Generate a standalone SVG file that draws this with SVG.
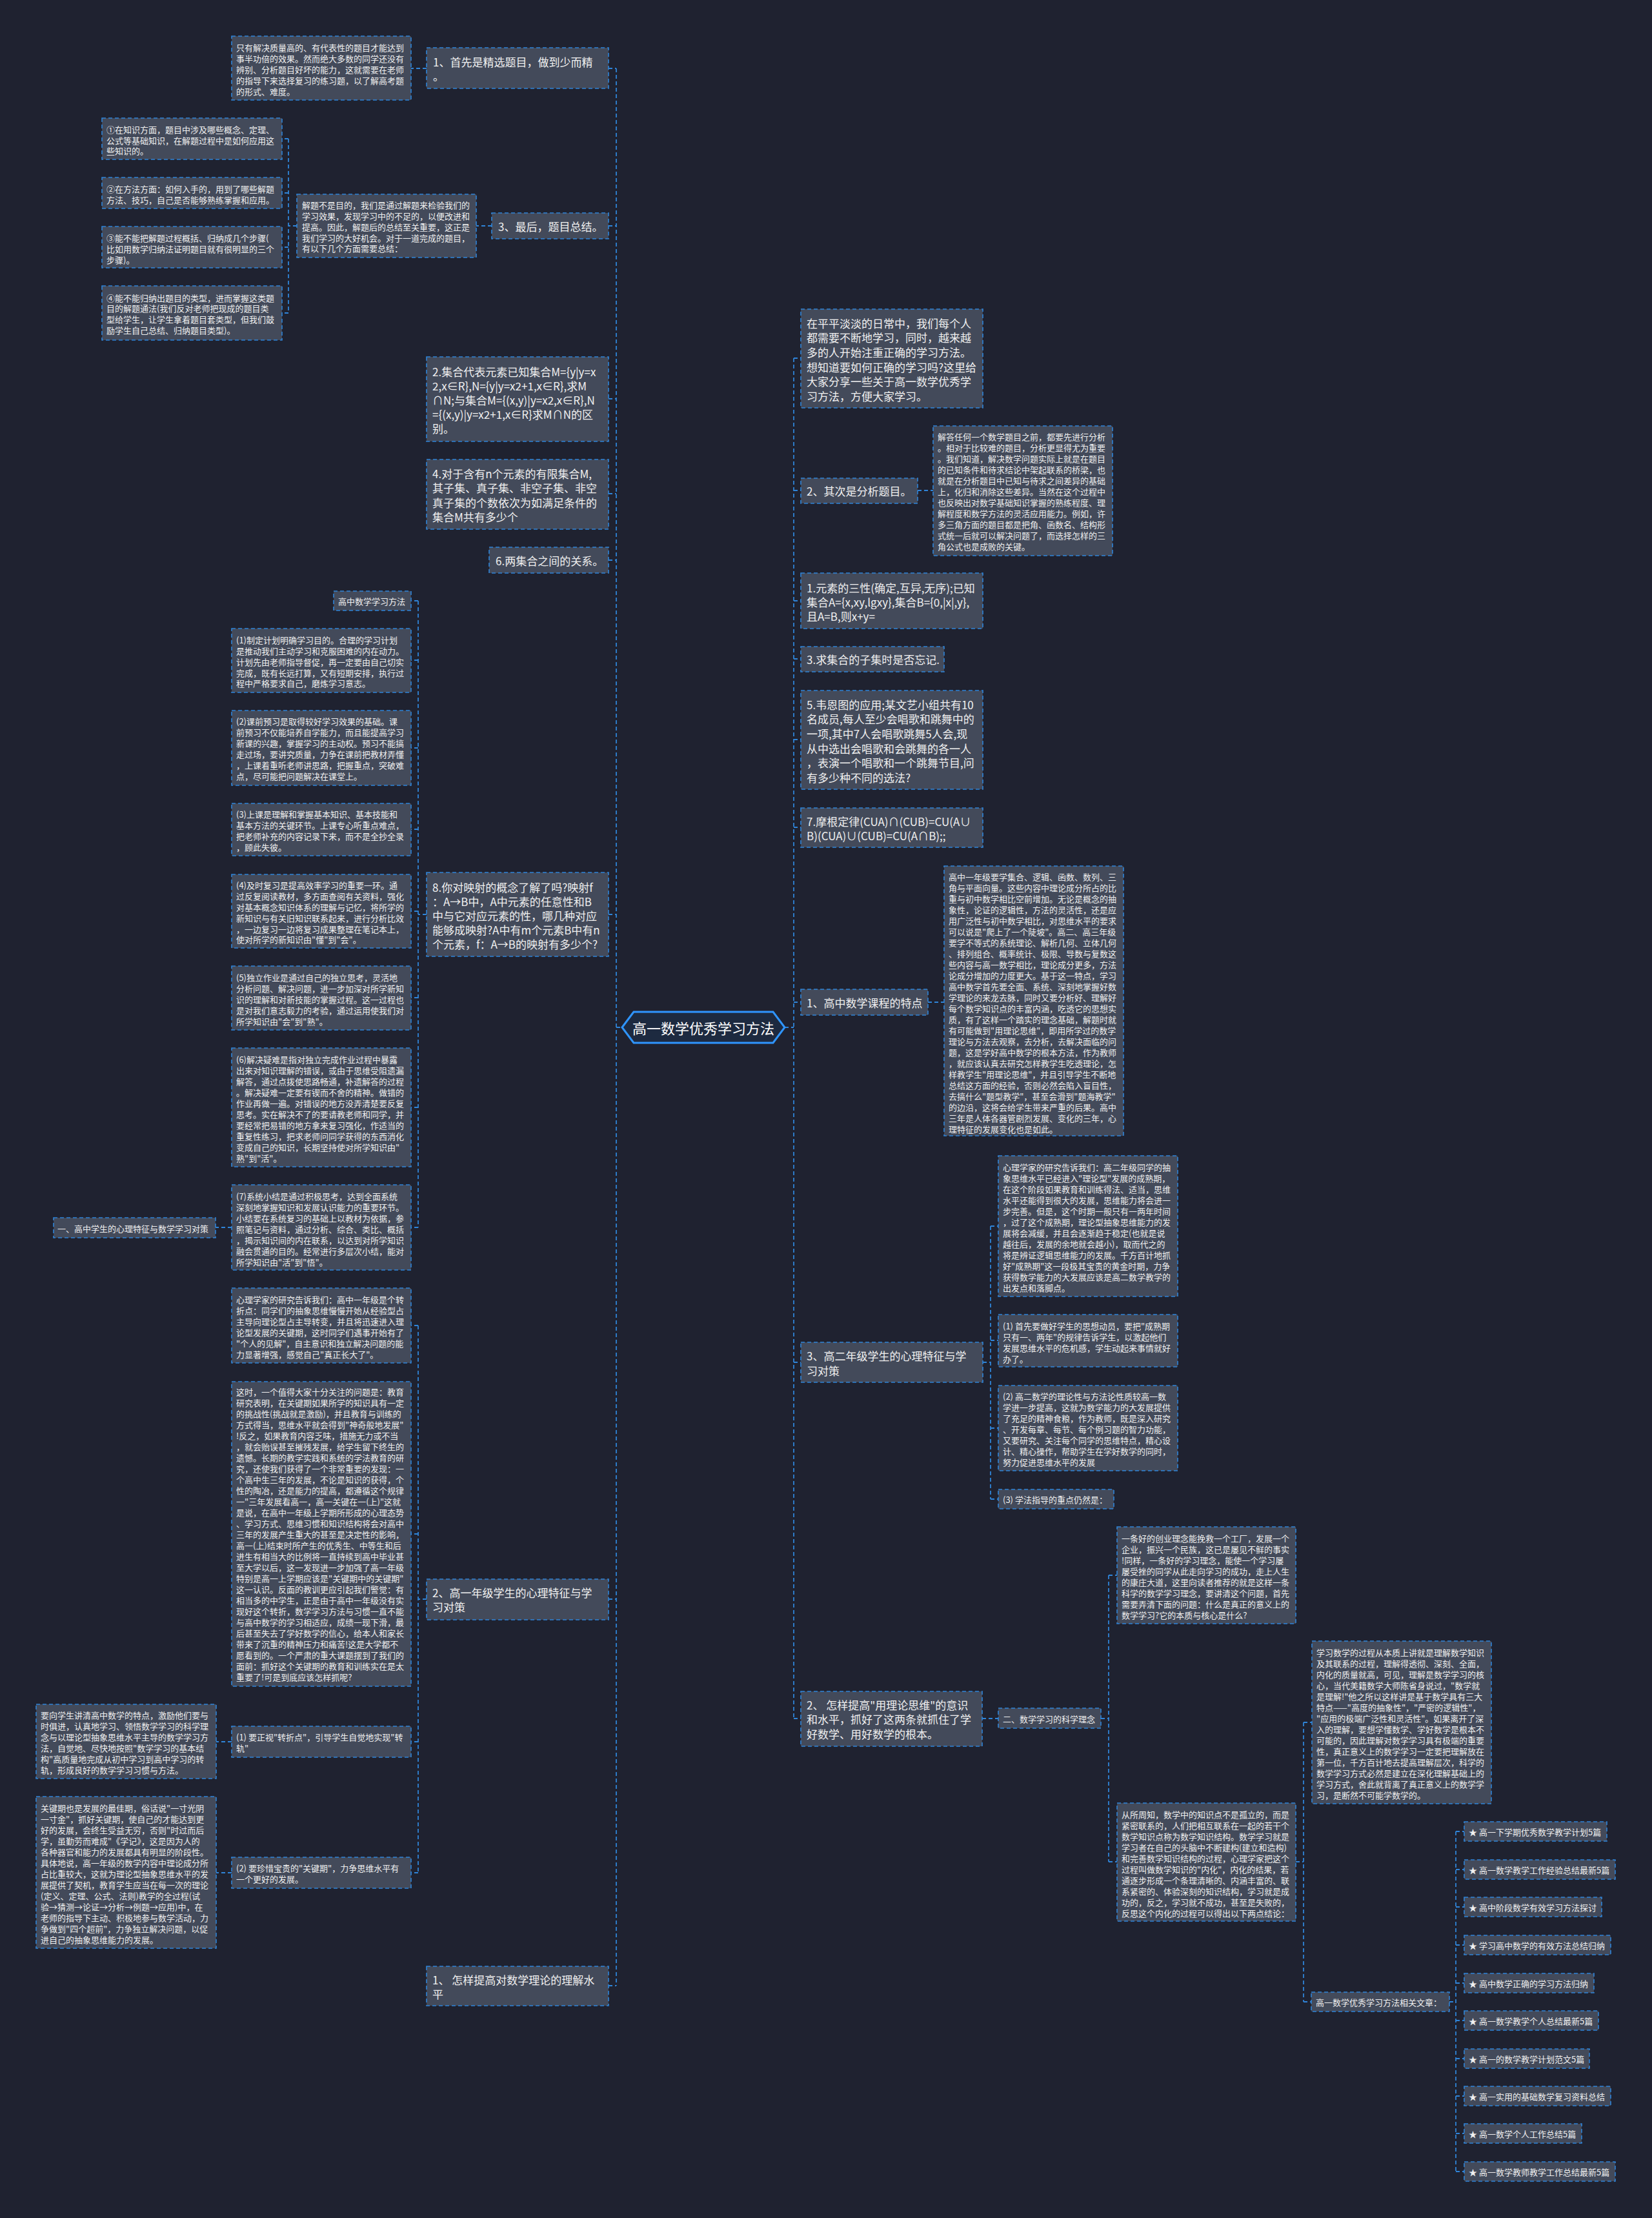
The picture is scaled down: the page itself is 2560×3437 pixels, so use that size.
<svg xmlns="http://www.w3.org/2000/svg" width="2560" height="3437" viewBox="0 0 2560 3437">
<style>
.bg{fill:#1f2230}
.box{fill:#434a5a;stroke:#2f84d8;stroke-width:1.6;stroke-dasharray:6 4}
text{fill:#f0f0f0;font-family:"Noto Sans CJK SC","Noto Sans",sans-serif;dominant-baseline:central}
.s{font-size:13px}
.m{font-size:17px}
.c{fill:none;stroke:#2f84d8;stroke-width:1.8;stroke-dasharray:6 4}
.ctr{fill:#1d2a40;stroke:#2f95ff;stroke-width:3}
.ct{font-size:22px;fill:#ffffff}
</style>
<rect class="bg" x="0" y="0" width="2560" height="3437"/>

<g id="connectors">
<path class="c" d="M955,106 V3077 M943,106 H955 M943,350 H955 M943,618 H955 M943,765 H955 M943,868 H955 M943,1417 H955 M943,2478 H955 M943,3077 H955 M955,1592 H964"/>
<path class="c" d="M1230,555 V2663 M1230,555 H1241 M1230,760 H1241 M1230,931 H1241 M1230,1021 H1241 M1230,1146 H1241 M1230,1282 H1241 M1230,1553 H1241 M1230,2111 H1241 M1230,2663 H1241 M1216,1592 H1230"/>
<path class="c" d="M661,106 H637 M762,350 H738"/>
<path class="c" d="M460,350 H447 M447,215 V485 M447,215 H437 M447,299 H437 M447,383 H437 M447,485 H437"/>
<path class="c" d="M661,1417 H648 M648,931 V1902 M648,931 H637 M648,1023 H637 M648,1159 H637 M648,1285 H637 M648,1412 H637 M648,1546 H637 M648,1716 H637 M648,1902 H637 M359,1902 H334"/>
<path class="c" d="M661,2478 H648 M648,2054 V2902 M648,2054 H637 M648,2377 H637 M648,2699 H637 M648,2902 H637 M359,2699 H335 M359,2902 H335"/>
<path class="c" d="M1422,760 H1446 M1438,1553 H1463"/>
<path class="c" d="M1523,2111 H1535 M1535,1900 V2323 M1535,1900 H1547 M1535,2077 H1547 M1535,2213 H1547 M1535,2323 H1547"/>
<path class="c" d="M1522,2663 H1547 M1706,2663 H1718 M1718,2441 V2885 M1718,2441 H1731 M1718,2885 H1731"/>
<path class="c" d="M2008,2885 H2020 M2020,2669 V3102 M2020,2669 H2033 M2020,3102 H2032"/>
<path class="c" d="M2246,3102 H2256 M2256,2838 V3365 M2256,2838 H2269 M2256,2897 H2269 M2256,2955 H2269 M2256,3014 H2269 M2256,3073 H2269 M2256,3131 H2269 M2256,3190 H2269 M2256,3248 H2269 M2256,3306 H2269 M2256,3365 H2269"/>
</g>

<g id="center">
<polygon class="ctr" points="964,1592 982,1568 1198,1568 1216,1592 1198,1616 982,1616"/>
<text class="ct" x="1090" y="1592" text-anchor="middle">高一数学优秀学习方法</text>
</g>

<!-- LEFT SIDE -->
<g id="n-first">
<rect class="box" x="661" y="74" width="282" height="63"/>
<text class="m"><tspan x="671" y="95">1、首先是精选题目，做到少而精</tspan><tspan x="671" y="117">。</tspan></text>
</g>
<g id="leaf-a">
<rect class="box" x="359" y="56" width="278" height="99"/>
<text class="s"><tspan x="366" y="73">只有解决质量高的、有代表性的题目才能达到</tspan><tspan x="366" y="90">事半功倍的效果。然而绝大多数的同学还没有</tspan><tspan x="366" y="107">辨别、分析题目好坏的能力，这就需要在老师</tspan><tspan x="366" y="124">的指导下来选择复习的练习题，以了解高考题</tspan><tspan x="366" y="141">的形式、难度。</tspan></text>
</g>
<g id="n-last">
<rect class="box" x="762" y="330" width="181" height="40"/>
<text class="m" x="772" y="350">3、最后，题目总结。</text>
</g>
<g id="mid-sum">
<rect class="box" x="460" y="301" width="278" height="98"/>
<text class="s"><tspan x="468" y="317">解题不是目的，我们是通过解题来检验我们的</tspan><tspan x="468" y="334">学习效果，发现学习中的不足的，以便改进和</tspan><tspan x="468" y="351">提高。因此，解题后的总结至关重要，这正是</tspan><tspan x="468" y="368">我们学习的大好机会。对于一道完成的题目，</tspan><tspan x="468" y="384">有以下几个方面需要总结：</tspan></text>
</g>
<g id="sum-1">
<rect class="box" x="158" y="183" width="279" height="64"/>
<text class="s"><tspan x="165" y="200">①在知识方面，题目中涉及哪些概念、定理、</tspan><tspan x="165" y="217">公式等基础知识，在解题过程中是如何应用这</tspan><tspan x="165" y="233">些知识的。</tspan></text>
</g>
<g id="sum-2">
<rect class="box" x="158" y="275" width="279" height="48"/>
<text class="s"><tspan x="165" y="292">②在方法方面：如何入手的，用到了哪些解题</tspan><tspan x="165" y="309">方法、技巧，自己是否能够熟练掌握和应用。</tspan></text>
</g>
<g id="sum-3">
<rect class="box" x="158" y="351" width="279" height="64"/>
<text class="s"><tspan x="165" y="368">③能不能把解题过程概括、归纳成几个步骤(</tspan><tspan x="165" y="385">比如用数学归纳法证明题目就有很明显的三个</tspan><tspan x="165" y="402">步骤)。</tspan></text>
</g>
<g id="sum-4">
<rect class="box" x="158" y="443" width="279" height="84"/>
<text class="s"><tspan x="165" y="461">④能不能归纳出题目的类型，进而掌握这类题</tspan><tspan x="165" y="477">目的解题通法(我们反对老师把现成的题目类</tspan><tspan x="165" y="494">型给学生，让学生拿着题目套类型，但我们鼓</tspan><tspan x="165" y="511">励学生自己总结、归纳题目类型)。</tspan></text>
</g>
<g id="set-2">
<rect class="box" x="661" y="553" width="282" height="131"/>
<text class="m"><tspan x="670" y="575">2.集合代表元素已知集合M={y|y=x</tspan><tspan x="670" y="597">2,x∈R},N={y|y=x2+1,x∈R},求M</tspan><tspan x="670" y="619">∩N;与集合M={(x,y)|y=x2,x∈R},N</tspan><tspan x="670" y="641">={(x,y)|y=x2+1,x∈R}求M∩N的区</tspan><tspan x="670" y="663">别。</tspan></text>
</g>
<g id="set-4">
<rect class="box" x="661" y="712" width="282" height="108"/>
<text class="m"><tspan x="670" y="733">4.对于含有n个元素的有限集合M,</tspan><tspan x="670" y="755">其子集、真子集、非空子集、非空</tspan><tspan x="670" y="778">真子集的个数依次为如满足条件的</tspan><tspan x="670" y="800">集合M共有多少个</tspan></text>
</g>
<g id="set-6">
<rect class="box" x="758" y="848" width="185" height="40"/>
<text class="m" x="768" y="868">6.两集合之间的关系。</text>
</g>
<g id="map-8">
<rect class="box" x="661" y="1352" width="282" height="130"/>
<text class="m"><tspan x="670" y="1374">8.你对映射的概念了解了吗?映射f</tspan><tspan x="670" y="1396">：A→B中，A中元素的任意性和B</tspan><tspan x="670" y="1418">中与它对应元素的性，哪几种对应</tspan><tspan x="670" y="1440">能够成映射?A中有m个元素B中有n</tspan><tspan x="670" y="1462">个元素，f：A→B的映射有多少个?</tspan></text>
</g>
<g id="method-title">
<rect class="box" x="517" y="916" width="120" height="30"/>
<text class="s" x="524" y="931">高中数学学习方法</text>
</g>
<g id="m1">
<rect class="box" x="359" y="974" width="278" height="99"/>
<text class="s"><tspan x="366" y="991">(1)制定计划明确学习目的。合理的学习计划</tspan><tspan x="366" y="1008">是推动我们主动学习和克服困难的内在动力。</tspan><tspan x="366" y="1025">计划先由老师指导督促，再一定要由自己切实</tspan><tspan x="366" y="1042">完成，既有长远打算，又有短期安排，执行过</tspan><tspan x="366" y="1058">程中严格要求自己，磨炼学习意志。</tspan></text>
</g>
<g id="m2">
<rect class="box" x="359" y="1101" width="278" height="116"/>
<text class="s"><tspan x="366" y="1117">(2)课前预习是取得较好学习效果的基础。课</tspan><tspan x="366" y="1134">前预习不仅能培养自学能力，而且能提高学习</tspan><tspan x="366" y="1151">新课的兴趣，掌握学习的主动权。预习不能搞</tspan><tspan x="366" y="1168">走过场，要讲究质量，力争在课前把教材弄懂</tspan><tspan x="366" y="1185">，上课着重听老师讲思路，把握重点，突破难</tspan><tspan x="366" y="1202">点，尽可能把问题解决在课堂上。</tspan></text>
</g>
<g id="m3">
<rect class="box" x="359" y="1245" width="278" height="81"/>
<text class="s"><tspan x="366" y="1261">(3)上课是理解和掌握基本知识、基本技能和</tspan><tspan x="366" y="1278">基本方法的关键环节。上课专心听重点难点，</tspan><tspan x="366" y="1295">把老师补充的内容记录下来，而不是全抄全录</tspan><tspan x="366" y="1312">，顾此失彼。</tspan></text>
</g>
<g id="m4">
<rect class="box" x="359" y="1355" width="278" height="114"/>
<text class="s"><tspan x="366" y="1371">(4)及时复习是提高效率学习的重要一环。通</tspan><tspan x="366" y="1388">过反复阅读教材，多方面查阅有关资料，强化</tspan><tspan x="366" y="1405">对基本概念知识体系的理解与记忆，将所学的</tspan><tspan x="366" y="1422">新知识与有关旧知识联系起来，进行分析比效</tspan><tspan x="366" y="1439">，一边复习一边将复习成果整理在笔记本上，</tspan><tspan x="366" y="1455">使对所学的新知识由"懂"到"会"。</tspan></text>
</g>
<g id="m5">
<rect class="box" x="359" y="1497" width="278" height="99"/>
<text class="s"><tspan x="366" y="1514">(5)独立作业是通过自己的独立思考，灵活地</tspan><tspan x="366" y="1531">分析问题、解决问题，进一步加深对所学新知</tspan><tspan x="366" y="1548">识的理解和对新技能的掌握过程。这一过程也</tspan><tspan x="366" y="1565">是对我们意志毅力的考验，通过运用使我们对</tspan><tspan x="366" y="1582">所学知识由"会"到"熟"。</tspan></text>
</g>
<g id="m6">
<rect class="box" x="359" y="1624" width="278" height="184"/>
<text class="s"><tspan x="366" y="1641">(6)解决疑难是指对独立完成作业过程中暴露</tspan><tspan x="366" y="1658">出来对知识理解的错误，或由于思维受阻遗漏</tspan><tspan x="366" y="1675">解答，通过点拨使思路畅通，补遗解答的过程</tspan><tspan x="366" y="1692">。解决疑难一定要有锲而不舍的精神。做错的</tspan><tspan x="366" y="1709">作业再做一遍。对错误的地方没弄清楚要反复</tspan><tspan x="366" y="1726">思考。实在解决不了的要请教老师和同学，并</tspan><tspan x="366" y="1743">要经常把易错的地方拿来复习强化，作适当的</tspan><tspan x="366" y="1760">重复性练习，把求老师问同学获得的东西消化</tspan><tspan x="366" y="1777">变成自己的知识，长期坚持使对所学知识由"</tspan><tspan x="366" y="1794">熟"到"活"。</tspan></text>
</g>
<g id="m7">
<rect class="box" x="359" y="1836" width="278" height="132"/>
<text class="s"><tspan x="366" y="1853">(7)系统小结是通过积极思考，达到全面系统</tspan><tspan x="366" y="1870">深刻地掌握知识和发展认识能力的重要环节。</tspan><tspan x="366" y="1887">小结要在系统复习的基础上以教材为依据，参</tspan><tspan x="366" y="1904">照笔记与资料，通过分析、综合、类比、概括</tspan><tspan x="366" y="1921">，揭示知识间的内在联系，以达到对所学知识</tspan><tspan x="366" y="1938">融会贯通的目的。经常进行多层次小结，能对</tspan><tspan x="366" y="1955">所学知识由"活"到"悟"。</tspan></text>
</g>
<g id="psy-title">
<rect class="box" x="83" y="1887" width="251" height="31"/>
<text class="s" x="89" y="1903">一、高中学生的心理特征与数学学习对策</text>
</g>
<g id="g1">
<rect class="box" x="661" y="2447" width="282" height="63"/>
<text class="m"><tspan x="670" y="2467">2、高一年级学生的心理特征与学</tspan><tspan x="670" y="2489">习对策</tspan></text>
</g>
<g id="g1-a">
<rect class="box" x="359" y="1996" width="278" height="116"/>
<text class="s"><tspan x="366" y="2013">心理学家的研究告诉我们：高中一年级是个转</tspan><tspan x="366" y="2030">折点：同学们的抽象思维慢慢开始从经验型占</tspan><tspan x="366" y="2047">主导向理论型占主导转变，并且将迅速进入理</tspan><tspan x="366" y="2064">论型发展的关键期，这时同学们遇事开始有了</tspan><tspan x="366" y="2081">"个人的见解"，自主意识和独立解决问题的能</tspan><tspan x="366" y="2098">力显著增强，感觉自己"真正长大了"。</tspan></text>
</g>
<g id="g1-b">
<rect class="box" x="359" y="2141" width="278" height="472"/>
<text class="s"><tspan x="366" y="2156">这时，一个值得大家十分关注的问题是：教育</tspan><tspan x="366" y="2173">研究表明，在关键期如果所学的知识具有一定</tspan><tspan x="366" y="2190">的挑战性(挑战就是激励)，并且教育与训练的</tspan><tspan x="366" y="2207">方式得当，思维水平就会得到"神奇般地发展"</tspan><tspan x="366" y="2224">!反之，如果教育内容乏味，措施无力或不当</tspan><tspan x="366" y="2241">，就会贻误甚至摧残发展，给学生留下终生的</tspan><tspan x="366" y="2258">遗憾。长期的教学实践和系统的学法教育的研</tspan><tspan x="366" y="2275">究，还使我们获得了一个非常重要的发现：一</tspan><tspan x="366" y="2292">个高中生三年的发展，不论是知识的获得，个</tspan><tspan x="366" y="2309">性的陶冶，还是能力的提高，都遵循这个规律</tspan><tspan x="366" y="2326">一"三年发展看高一，高一关键在一(上)"这就</tspan><tspan x="366" y="2343">是说，在高中一年级上学期所形成的心理态势</tspan><tspan x="366" y="2360">、学习方式、思维习惯和知识结构将会对高中</tspan><tspan x="366" y="2377">三年的发展产生重大的甚至是决定性的影响，</tspan><tspan x="366" y="2394">高一(上)结束时所产生的优秀生、中等生和后</tspan><tspan x="366" y="2411">进生有相当大的比例将一直持续到高中毕业甚</tspan><tspan x="366" y="2428">至大学以后，这一发现进一步加强了高一年级</tspan><tspan x="366" y="2445">特别是高一上学期应该是"关键期中的关键期"</tspan><tspan x="366" y="2462">这一认识。反面的教训更应引起我们警觉：有</tspan><tspan x="366" y="2479">相当多的中学生，正是由于高中一年级没有实</tspan><tspan x="366" y="2496">现好这个转折，数学学习方法与习惯一直不能</tspan><tspan x="366" y="2513">与高中数学的学习相适应，成绩一现下滑，最</tspan><tspan x="366" y="2530">后甚至失去了学好数学的信心，给本人和家长</tspan><tspan x="366" y="2547">带来了沉重的精神压力和痛苦!这是大学都不</tspan><tspan x="366" y="2564">愿看到的。一个严肃的重大课题摆到了我们的</tspan><tspan x="366" y="2581">面前：抓好这个关键期的教育和训练实在是太</tspan><tspan x="366" y="2598">重要了!可是到底应该怎样抓呢?</tspan></text>
</g>
<g id="g1-c">
<rect class="box" x="359" y="2675" width="278" height="48"/>
<text class="s"><tspan x="366" y="2691">(1) 要正视"转折点"，引导学生自觉地实现"转</tspan><tspan x="366" y="2708">轨"</tspan></text>
</g>
<g id="g1-c1">
<rect class="box" x="56" y="2641" width="279" height="115"/>
<text class="s"><tspan x="63" y="2657">要向学生讲清高中数学的特点，激励他们要与</tspan><tspan x="63" y="2674">时俱进，认真地学习、领悟数学学习的科学理</tspan><tspan x="63" y="2691">念与以理论型抽象思维水平主导的数学学习方</tspan><tspan x="63" y="2708">法，自觉地、尽快地按照"数学学习的基本结</tspan><tspan x="63" y="2725">构"高质量地完成从初中学习到高中学习的转</tspan><tspan x="63" y="2742">轨，形成良好的数学学习习惯与方法。</tspan></text>
</g>
<g id="g1-d">
<rect class="box" x="359" y="2878" width="278" height="48"/>
<text class="s"><tspan x="366" y="2894">(2) 要珍惜宝贵的"关键期"，力争思维水平有</tspan><tspan x="366" y="2911">一个更好的发展。</tspan></text>
</g>
<g id="g1-d1">
<rect class="box" x="56" y="2784" width="279" height="235"/>
<text class="s"><tspan x="63" y="2801">关键期也是发展的最佳期，俗话说"一寸光阴</tspan><tspan x="63" y="2818">一寸金"，抓好关键期，使自己的才能达到更</tspan><tspan x="63" y="2835">好的发展，会终生受益无穷，否则"时过而后</tspan><tspan x="63" y="2852">学，虽勤劳而难成"《学记》，这是因为人的</tspan><tspan x="63" y="2869">各种器官和能力的发展都具有明显的阶段性。</tspan><tspan x="63" y="2886">具体地说，高一年级的数学内容中理论成分所</tspan><tspan x="63" y="2903">占比重较大，这就为理论型抽象思维水平的发</tspan><tspan x="63" y="2920">展提供了契机，教育学生应当在每一次的理论</tspan><tspan x="63" y="2937">(定义、定理、公式、法则)教学的全过程(试</tspan><tspan x="63" y="2954">验→猜测→论证→分析→例题→应用)中，在</tspan><tspan x="63" y="2971">老师的指导下主动、积极地参与数学活动，力</tspan><tspan x="63" y="2988">争做到"四个超前"，力争独立解决问题，以促</tspan><tspan x="63" y="3005">进自己的抽象思维能力的发展。</tspan></text>
</g>
<g id="theory-1">
<rect class="box" x="661" y="3047" width="282" height="61"/>
<text class="m"><tspan x="670" y="3067">1、 怎样提高对数学理论的理解水</tspan><tspan x="670" y="3089">平</tspan></text>
</g>

<!-- RIGHT SIDE -->
<g id="intro">
<rect class="box" x="1241" y="479" width="282" height="153"/>
<text class="m"><tspan x="1250" y="500">在平平淡淡的日常中，我们每个人</tspan><tspan x="1250" y="522">都需要不断地学习，同时，越来越</tspan><tspan x="1250" y="545">多的人开始注重正确的学习方法。</tspan><tspan x="1250" y="568">想知道要如何正确的学习吗?这里给</tspan><tspan x="1250" y="590">大家分享一些关于高一数学优秀学</tspan><tspan x="1250" y="613">习方法，方便大家学习。</tspan></text>
</g>
<g id="n-second">
<rect class="box" x="1241" y="741" width="181" height="39"/>
<text class="m" x="1250" y="760">2、其次是分析题目。</text>
</g>
<g id="analyse">
<rect class="box" x="1446" y="660" width="278" height="201"/>
<text class="s"><tspan x="1453" y="676">解答任何一个数学题目之前，都要先进行分析</tspan><tspan x="1453" y="693">。相对于比较难的题目，分析更显得尤为重要</tspan><tspan x="1453" y="710">。我们知道，解决数学问题实际上就是在题目</tspan><tspan x="1453" y="727">的已知条件和待求结论中架起联系的桥梁，也</tspan><tspan x="1453" y="744">就是在分析题目中已知与待求之间差异的基础</tspan><tspan x="1453" y="761">上，化归和消除这些差异。当然在这个过程中</tspan><tspan x="1453" y="778">也反映出对数学基础知识掌握的熟练程度、理</tspan><tspan x="1453" y="795">解程度和数学方法的灵活应用能力。例如，许</tspan><tspan x="1453" y="812">多三角方面的题目都是把角、函数名、结构形</tspan><tspan x="1453" y="829">式统一后就可以解决问题了，而选择怎样的三</tspan><tspan x="1453" y="846">角公式也是成败的关键。</tspan></text>
</g>
<g id="set-1">
<rect class="box" x="1241" y="888" width="282" height="86"/>
<text class="m"><tspan x="1250" y="910">1.元素的三性(确定,互异,无序);已知</tspan><tspan x="1250" y="932">集合A={x,xy,lgxy},集合B={0,|x|,y},</tspan><tspan x="1250" y="954">且A=B,则x+y=</tspan></text>
</g>
<g id="set-3">
<rect class="box" x="1241" y="1002" width="222" height="39"/>
<text class="m" x="1250" y="1021">3.求集合的子集时是否忘记.</text>
</g>
<g id="set-5">
<rect class="box" x="1241" y="1070" width="282" height="153"/>
<text class="m"><tspan x="1250" y="1091">5.韦恩图的应用;某文艺小组共有10</tspan><tspan x="1250" y="1113">名成员,每人至少会唱歌和跳舞中的</tspan><tspan x="1250" y="1136">一项,其中7人会唱歌跳舞5人会,现</tspan><tspan x="1250" y="1159">从中选出会唱歌和会跳舞的各一人</tspan><tspan x="1250" y="1181">，表演一个唱歌和一个跳舞节目,问</tspan><tspan x="1250" y="1204">有多少种不同的选法?</tspan></text>
</g>
<g id="set-7">
<rect class="box" x="1241" y="1252" width="282" height="61"/>
<text class="m"><tspan x="1250" y="1272">7.摩根定律(CUA)∩(CUB)=CU(A∪</tspan><tspan x="1250" y="1294">B)(CUA)∪(CUB)=CU(A∩B);;</tspan></text>
</g>
<g id="course">
<rect class="box" x="1241" y="1533" width="197" height="40"/>
<text class="m" x="1250" y="1553">1、高中数学课程的特点</text>
</g>
<g id="course-a">
<rect class="box" x="1463" y="1342" width="278" height="418"/>
<text class="s"><tspan x="1470" y="1358">高中一年级要学集合、逻辑、函数、数列、三</tspan><tspan x="1470" y="1375">角与平面向量。这些内容中理论成分所占的比</tspan><tspan x="1470" y="1392">重与初中数学相比空前增加。无论是概念的抽</tspan><tspan x="1470" y="1409">象性，论证的逻辑性，方法的灵活性，还是应</tspan><tspan x="1470" y="1426">用广泛性与初中数学相比，对思维水平的要求</tspan><tspan x="1470" y="1443">可以说是"爬上了一个陡坡"。高二、高三年级</tspan><tspan x="1470" y="1460">要学不等式的系统理论、解析几何、立体几何</tspan><tspan x="1470" y="1477">、排列组合、概率统计、极限、导数与复数这</tspan><tspan x="1470" y="1494">些内容与高一数学相比，理论成分更多，方法</tspan><tspan x="1470" y="1511">论成分增加的力度更大。基于这一特点，学习</tspan><tspan x="1470" y="1528">高中数学首先要全面、系统、深刻地掌握好数</tspan><tspan x="1470" y="1545">学理论的来龙去脉，同时又要分析好、理解好</tspan><tspan x="1470" y="1562">每个数学知识点的丰富内涵，吃透它的思想实</tspan><tspan x="1470" y="1579">质，有了这样一个踏实的理念基础，解题时就</tspan><tspan x="1470" y="1596">有可能做到"用理论思维"，即用所学过的数学</tspan><tspan x="1470" y="1613">理论与方法去观察，去分析，去解决面临的问</tspan><tspan x="1470" y="1630">题，这是学好高中数学的根本方法，作为教师</tspan><tspan x="1470" y="1647">，就应该认真去研究怎样教学生吃透理论，怎</tspan><tspan x="1470" y="1664">样教学生"用理论思维"，并且引导学生不断地</tspan><tspan x="1470" y="1681">总结这方面的经验，否则必然会陷入盲目性，</tspan><tspan x="1470" y="1698">去搞什么"题型教学"，甚至会滑到"题海教学"</tspan><tspan x="1470" y="1715">的边沿，这将会给学生带来严重的后果。高中</tspan><tspan x="1470" y="1732">三年是人体各器管剧烈发展、变化的三年，心</tspan><tspan x="1470" y="1749">理特征的发展变化也是如此。</tspan></text>
</g>
<g id="g2">
<rect class="box" x="1241" y="2080" width="282" height="62"/>
<text class="m"><tspan x="1250" y="2100">3、高二年级学生的心理特征与学</tspan><tspan x="1250" y="2123">习对策</tspan></text>
</g>
<g id="g2-a">
<rect class="box" x="1547" y="1791" width="278" height="218"/>
<text class="s"><tspan x="1554" y="1808">心理学家的研究告诉我们：高二年级同学的抽</tspan><tspan x="1554" y="1825">象思维水平已经进入"理论型"发展的成熟期，</tspan><tspan x="1554" y="1842">在这个阶段如果教育和训练得法、适当，思维</tspan><tspan x="1554" y="1859">水平还能得到很大的发展，思维能力将会进一</tspan><tspan x="1554" y="1876">步完善。但是，这个时期一般只有一两年时间</tspan><tspan x="1554" y="1893">，过了这个成熟期，理论型抽象思维能力的发</tspan><tspan x="1554" y="1910">展将会减缓，并且会逐渐趋于稳定(也就是说</tspan><tspan x="1554" y="1927">越往后，发展的余地就会越小)，取而代之的</tspan><tspan x="1554" y="1944">将是辨证逻辑思维能力的发展。千方百计地抓</tspan><tspan x="1554" y="1961">好"成熟期"这一段极其宝贵的黄金时期，力争</tspan><tspan x="1554" y="1978">获得数学能力的大发展应该是高二数学教学的</tspan><tspan x="1554" y="1995">出发点和落脚点。</tspan></text>
</g>
<g id="g2-b">
<rect class="box" x="1547" y="2037" width="278" height="81"/>
<text class="s"><tspan x="1554" y="2054">(1) 首先要做好学生的思想动员，要把"成熟期</tspan><tspan x="1554" y="2071">只有一、两年"的规律告诉学生，以激起他们</tspan><tspan x="1554" y="2088">发展思维水平的危机感，学生动起来事情就好</tspan><tspan x="1554" y="2105">办了。</tspan></text>
</g>
<g id="g2-c">
<rect class="box" x="1547" y="2147" width="278" height="132"/>
<text class="s"><tspan x="1554" y="2163">(2) 高二数学的理论性与方法论性质较高一数</tspan><tspan x="1554" y="2180">学进一步提高，这就为数学能力的大发展提供</tspan><tspan x="1554" y="2197">了充足的精神食粮，作为教师，既是深入研究</tspan><tspan x="1554" y="2214">、开发每章、每节、每个例习题的智力功能，</tspan><tspan x="1554" y="2231">又要研究、关注每个同学的思维特点，精心设</tspan><tspan x="1554" y="2248">计、精心操作，帮助学生在学好数学的同时，</tspan><tspan x="1554" y="2265">努力促进思维水平的发展</tspan></text>
</g>
<g id="g2-d">
<rect class="box" x="1547" y="2308" width="179" height="30"/>
<text class="s" x="1554" y="2323">(3) 学法指导的重点仍然是：</text>
</g>
<g id="theory-2">
<rect class="box" x="1241" y="2621" width="281" height="85"/>
<text class="m"><tspan x="1250" y="2641">2、 怎样提高"用理论思维"的意识</tspan><tspan x="1250" y="2663">和水平，抓好了这两条就抓住了学</tspan><tspan x="1250" y="2686">好数学、用好数学的根本。</tspan></text>
</g>
<g id="idea">
<rect class="box" x="1547" y="2647" width="159" height="31"/>
<text class="s" x="1554" y="2663">二、数学学习的科学理念</text>
</g>
<g id="idea-a">
<rect class="box" x="1731" y="2366" width="277" height="150"/>
<text class="s"><tspan x="1738" y="2383">一条好的创业理念能挽救一个工厂，发展一个</tspan><tspan x="1738" y="2400">企业，振兴一个民族，这已是屡见不鲜的事实</tspan><tspan x="1738" y="2417">!同样，一条好的学习理念，能使一个学习屡</tspan><tspan x="1738" y="2434">屡受挫的同学从此走向学习的成功，走上人生</tspan><tspan x="1738" y="2451">的康庄大道，这里向读者推荐的就是这样一条</tspan><tspan x="1738" y="2468">科学的数学学习理念，要讲清这个问题，首先</tspan><tspan x="1738" y="2485">需要弄清下面的问题：什么是真正的意义上的</tspan><tspan x="1738" y="2502">数学学习?它的本质与核心是什么?</tspan></text>
</g>
<g id="idea-b">
<rect class="box" x="1731" y="2794" width="277" height="183"/>
<text class="s"><tspan x="1738" y="2811">从所周知，数学中的知识点不是孤立的，而是</tspan><tspan x="1738" y="2828">紧密联系的，人们把相互联系在一起的若干个</tspan><tspan x="1738" y="2845">数学知识点称为数学知识结构。数学学习就是</tspan><tspan x="1738" y="2862">学习者在自己的头脑中不断建构(建立和造构)</tspan><tspan x="1738" y="2879">和完善数学知识结构的过程，心理学家把这个</tspan><tspan x="1738" y="2896">过程叫做数学知识的"内化"，内化的结果，若</tspan><tspan x="1738" y="2913">通逐步形成一个条理清晰的、内涵丰富的、联</tspan><tspan x="1738" y="2930">系紧密的、体验深刻的知识结构，学习就是成</tspan><tspan x="1738" y="2947">功的，反之，学习就不成功，甚至是失败的，</tspan><tspan x="1738" y="2964">反思这个内化的过程可以得出以下两点结论：</tspan></text>
</g>
<g id="idea-b1">
<rect class="box" x="2033" y="2543" width="278" height="252"/>
<text class="s"><tspan x="2040" y="2560">学习数学的过程从本质上讲就是理解数学知识</tspan><tspan x="2040" y="2577">及其联系的过程，理解得透彻、深刻、全面，</tspan><tspan x="2040" y="2594">内化的质量就高，可见，理解是数学学习的核</tspan><tspan x="2040" y="2611">心，当代美籍数学大师陈省身说过，"数学就</tspan><tspan x="2040" y="2628">是理解!"他之所以这样讲是基于数学具有三大</tspan><tspan x="2040" y="2645">特点——"高度的抽象性"，"严密的逻辑性"，</tspan><tspan x="2040" y="2662">"应用的极端广泛性和灵活性"。如果离开了深</tspan><tspan x="2040" y="2679">入的理解，要想学懂数学、学好数学是根本不</tspan><tspan x="2040" y="2696">可能的，因此理解对数学学习具有极端的重要</tspan><tspan x="2040" y="2713">性，真正意义上的数学学习一定要把理解放在</tspan><tspan x="2040" y="2730">第一位，千方百计地去提高理解层次，科学的</tspan><tspan x="2040" y="2747">数学学习方式必然是建立在深化理解基础上的</tspan><tspan x="2040" y="2764">学习方式，舍此就背离了真正意义上的数学学</tspan><tspan x="2040" y="2781">习，是断然不可能学数学的。</tspan></text>
</g>
<g id="related">
<rect class="box" x="2032" y="3087" width="214" height="30"/>
<text class="s" x="2039" y="3102">高一数学优秀学习方法相关文章：</text>
</g>
<g id="r1"><rect class="box" x="2269" y="2823" width="221" height="30"/><text class="s" x="2276" y="2838">★ 高一下学期优秀数学教学计划5篇</text></g>
<g id="r2"><rect class="box" x="2269" y="2882" width="234" height="30"/><text class="s" x="2276" y="2897">★ 高一数学教学工作经验总结最新5篇</text></g>
<g id="r3"><rect class="box" x="2269" y="2940" width="213" height="30"/><text class="s" x="2276" y="2955">★ 高中阶段数学有效学习方法探讨</text></g>
<g id="r4"><rect class="box" x="2269" y="2999" width="227" height="30"/><text class="s" x="2276" y="3014">★ 学习高中数学的有效方法总结归纳</text></g>
<g id="r5"><rect class="box" x="2269" y="3058" width="201" height="30"/><text class="s" x="2276" y="3073">★ 高中数学正确的学习方法归纳</text></g>
<g id="r6"><rect class="box" x="2269" y="3116" width="208" height="30"/><text class="s" x="2276" y="3131">★ 高一数学教学个人总结最新5篇</text></g>
<g id="r7"><rect class="box" x="2269" y="3175" width="194" height="30"/><text class="s" x="2276" y="3190">★ 高一的数学教学计划范文5篇</text></g>
<g id="r8"><rect class="box" x="2269" y="3233" width="227" height="30"/><text class="s" x="2276" y="3248">★ 高一实用的基础数学复习资料总结</text></g>
<g id="r9"><rect class="box" x="2269" y="3291" width="182" height="30"/><text class="s" x="2276" y="3306">★ 高一数学个人工作总结5篇</text></g>
<g id="r10"><rect class="box" x="2269" y="3350" width="234" height="30"/><text class="s" x="2276" y="3365">★ 高一数学教师教学工作总结最新5篇</text></g>
</svg>
